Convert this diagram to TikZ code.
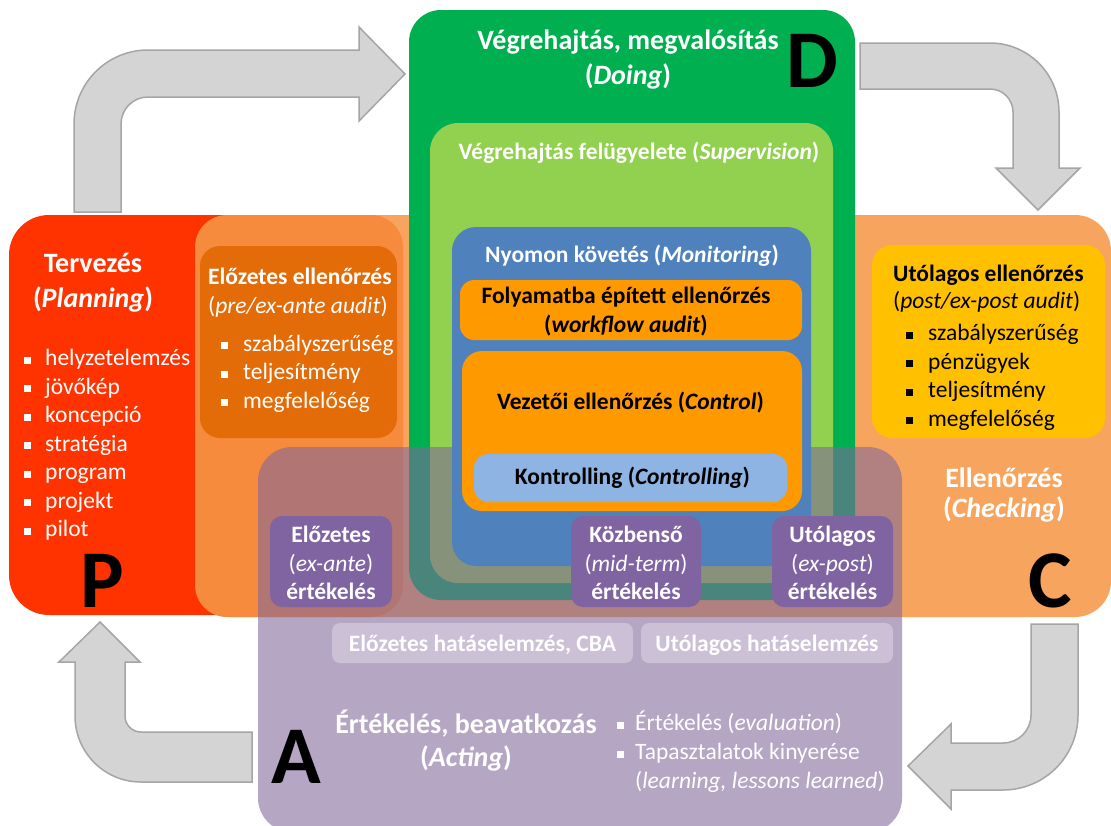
\documentclass[tikz,border=0pt]{standalone}
\usepackage{fontspec}
\setmainfont{Carlito}
\usepackage{tikz}

\definecolor{planred}{HTML}{FF3300}
\definecolor{checkorange}{HTML}{F7A55E}
\definecolor{preorange}{HTML}{F68B3E}
\definecolor{predark}{HTML}{E36C09}
\definecolor{postyellow}{HTML}{FFC000}
\definecolor{dogreen}{HTML}{00B050}
\definecolor{supgreen}{HTML}{92D050}
\definecolor{monblue}{HTML}{4F81BD}
\definecolor{ctrlorange}{HTML}{FF9900}
\definecolor{kontblue}{HTML}{8DB4E2}
\definecolor{actpurple}{HTML}{80669B}
\definecolor{evalpurple}{HTML}{8064A2}
\definecolor{arrowgray}{HTML}{D4D4D4}
\definecolor{arrowedge}{HTML}{A5A5A5}

\newcommand{\sqb}[1]{\rule[2pt]{7pt}{7pt}\hspace{#1pt}}
\newcommand{\bigletter}{\fontsize{82}{82}\selectfont\bfseries}

\begin{document}
\begin{tikzpicture}[x=1pt,y=-1pt,
    grayarrow/.style={fill=arrowgray,draw=arrowedge,line width=1.5pt},
    body/.style={font=\fontsize{23.5}{28.5}\selectfont,inner sep=0pt,align=center},
    head/.style={font=\fontsize{28}{35}\selectfont,inner sep=0pt,align=center},
    letter/.style={font=\bigletter,inner sep=0pt}]

    % Canvas
    \fill[white] (0,0) rectangle (1111,825);
    \useasboundingbox (0,0) rectangle (1111,825);

    % Cycle arrows
    \draw[grayarrow] (74,212) -- (74,124) arc[start angle=180,end angle=270,radius=74]
        -- (359,50) -- (359,27) -- (405,74) -- (359,121) -- (359,97) -- (148,97)
        arc[start angle=270,end angle=180,radius=27] -- (121,212) -- cycle;
    \draw[grayarrow] (860,43) -- (990,43) arc[start angle=270,end angle=360,radius=69]
        -- (1059,168) -- (1080,168) -- (1038,210) -- (996,168) -- (1013,168) -- (1013,112)
        arc[start angle=0,end angle=-90,radius=23] -- (860,89) -- cycle;
    \draw[grayarrow] (1031,624) -- (1078,624) -- (1078,715) arc[start angle=0,end angle=90,radius=75]
        -- (951,790) -- (951,809) -- (908,766) -- (951,724) -- (951,743) -- (1003,743)
        arc[start angle=90,end angle=0,radius=28] -- cycle;
    \draw[grayarrow] (252,732) -- (141,732) arc[start angle=90,end angle=180,radius=16]
        -- (125,662) -- (140,662) -- (100,622) -- (59,662) -- (75,662) -- (75,716)
        arc[start angle=180,end angle=90,radius=66] -- (252,782) -- cycle;

    % Planning and checking panels
    \fill[planred,rounded corners=40pt] (9,215) rectangle (300,615);
    \fill[checkorange,rounded corners=36pt] (195,215) rectangle (1111,617);
    \fill[preorange,rounded corners=32pt] (195,215) rectangle (403,617);
    \fill[predark,rounded corners=20pt] (200,246) rectangle (397,438);
    \fill[postyellow,rounded corners=20pt] (872,245) rectangle (1105,438);

    % Doing panels
    \fill[dogreen,rounded corners=32pt] (409,10) rectangle (855,600);
    \fill[supgreen,rounded corners=28pt] (430,123) rectangle (833,583);

    % Acting panel (see-through)
    \fill[actpurple,fill opacity=0.58,rounded corners=34pt] (258,447) rectangle (902,832);

    % Monitoring and control
    \fill[monblue,rounded corners=24pt] (452,227) rectangle (811,566);
    \fill[ctrlorange,rounded corners=14pt] (460,280) rectangle (802,340);
    \fill[ctrlorange,rounded corners=20pt] (462,351) rectangle (802,511);
    \fill[kontblue,rounded corners=14pt] (474,454) rectangle (787,502);

    % Evaluation boxes
    \fill[evalpurple,rounded corners=12pt] (270,516) rectangle (392,607);
    \fill[evalpurple,rounded corners=12pt] (571,516) rectangle (701,607);
    \fill[evalpurple,rounded corners=12pt] (772,516) rectangle (893,607);
    \fill[white,fill opacity=0.3,rounded corners=8pt] (332,623) rectangle (633,663);
    \fill[white,fill opacity=0.3,rounded corners=8pt] (641,623) rectangle (893,663);

    % Doing texts
    \node[head,text=white] (doingtitle) at (628,60) {\textbf{Végrehajtás, megvalósítás}\\\textbf{(\textit{Doing})}};
    \node[body,text=white] (supervtitle) at (639,153) {\textbf{Végrehajtás felügyelete (\textit{Supervision})}};
    \node[body,text=white] (montitle) at (632,255.5) {\textbf{Nyomon követés (\textit{Monitoring})}};
    \node[body] (workflow) at (626,311.5) {\textbf{Folyamatba épített ellenőrzés}\\\textbf{(\textit{workflow audit})}};
    \node[body] (control) at (630.5,402.5) {\textbf{Vezetői ellenőrzés (\textit{Control})}};
    \node[body] (kontrolling) at (632.5,477.5) {\textbf{Kontrolling (\textit{Controlling})}};

    % Planning texts
    \node[head,text=white] (plantitle) at (93,283) {\textbf{Tervezés}\\\textbf{(\textit{Planning})}};
    \node[body,align=left,anchor=west,text=white] (planlist) at (24,445)
        {\sqb{14}helyzetelemzés\\\sqb{14}jövőkép\\\sqb{14}koncepció\\\sqb{14}stratégia\\
         \sqb{14}program\\\sqb{14}projekt\\\sqb{14}pilot};
    \node[body,align=left,anchor=west,text=white,font=\fontsize{23.5}{29}\selectfont] (pretitle) at (208,292.5)
        {\textbf{Előzetes ellenőrzés}\\(\textit{pre/ex-ante audit})};
    \node[body,align=left,anchor=west,text=white] (prelist) at (221,373.5)
        {\sqb{15}szabályszerűség\\\sqb{15}teljesítmény\\\sqb{15}megfelelőség};

    % Checking texts
    \node[body,align=left,anchor=west,font=\fontsize{23.5}{27}\selectfont] (posttitle) at (893,288.5)
        {\textbf{Utólagos ellenőrzés}\\(\textit{post/ex-post audit})};
    \node[body,align=left,anchor=west] (postlist) at (906,377.5)
        {\sqb{15}szabályszerűség\\\sqb{15}pénzügyek\\\sqb{15}teljesítmény\\\sqb{15}megfelelőség};
    \node[head,text=white,font=\fontsize{28}{30}\selectfont] (checktitle) at (1004,495)
        {\textbf{Ellenőrzés}\\\textbf{(\textit{Checking})}};

    % Acting texts
    \node[body,text=white] (evalpre) at (331,563) {\textbf{Előzetes}\\(\textit{ex-ante})\\\textbf{értékelés}};
    \node[body,text=white] (evalmid) at (636,563) {\textbf{Közbenső}\\(\textit{mid-term})\\\textbf{értékelés}};
    \node[body,text=white] (evalpost) at (832.5,563) {\textbf{Utólagos}\\(\textit{ex-post})\\\textbf{értékelés}};
    \node[body,text=white] (cbapre) at (482.5,645) {\textbf{Előzetes hatáselemzés, CBA}};
    \node[body,text=white] (cbapost) at (767,645) {\textbf{Utólagos hatáselemzés}};
    \node[head,text=white,font=\fontsize{28}{33}\selectfont] (acttitle) at (466,740.5)
        {\textbf{Értékelés, beavatkozás}\\\textbf{(\textit{Acting})}};
    \node[body,align=left,anchor=west,text=white,font=\fontsize{23.5}{29}\selectfont] (actlist) at (617,752)
        {\sqb{11}Értékelés (\textit{evaluation})\\\sqb{11}Tapasztalatok kinyerése\\
         \phantom{\sqb{11}}(\textit{learning, lessons learned})};

    % Phase letters
    \node[letter] (letterD) at (812,60.5) {D};
    \node[letter] (letterP) at (102.5,581) {P};
    \node[letter] (letterC) at (1050,581) {C};
    \node[letter] (letterA) at (296,756.5) {A};
\end{tikzpicture}
\end{document}
